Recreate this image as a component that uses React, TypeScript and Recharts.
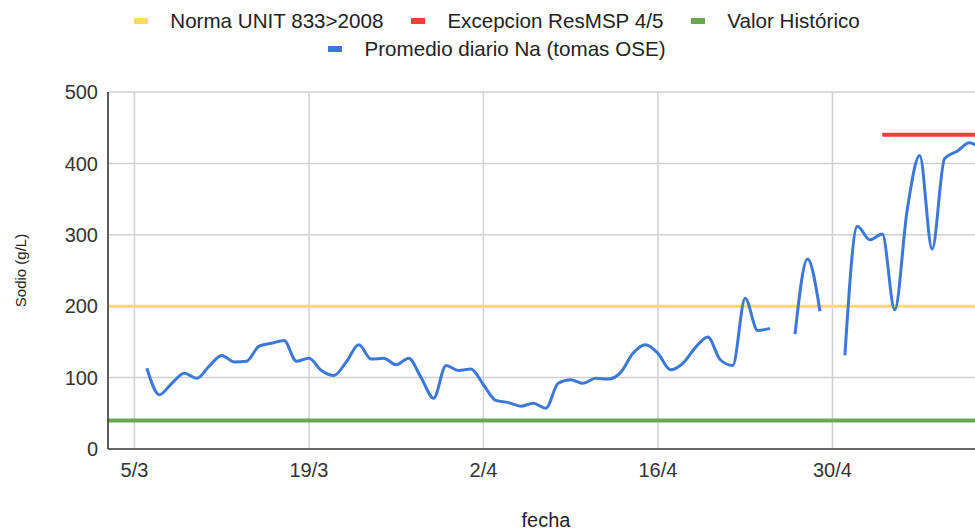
import { LineChart, Line, XAxis, YAxis, CartesianGrid, Legend, ReferenceLine } from "recharts";

// daily dates (d/m, 2023) and mean Na values; null = no sample
const fechas = [
  "6/3", "7/3", "8/3", "9/3", "10/3", "11/3", "12/3", "13/3", "14/3", "15/3",
  "16/3", "17/3", "18/3", "19/3", "20/3", "21/3", "22/3", "23/3", "24/3", "25/3",
  "26/3", "27/3", "28/3", "29/3", "30/3", "31/3", "1/4", "2/4", "3/4", "4/4",
  "5/4", "6/4", "7/4", "8/4", "9/4", "10/4", "11/4", "12/4", "13/4", "14/4",
  "15/4", "16/4", "17/4", "18/4", "19/4", "20/4", "21/4", "22/4", "23/4", "24/4",
  "25/4", "26/4", "27/4", "28/4", "29/4", "30/4", "1/5", "2/5", "3/5", "4/5",
  "5/5", "6/5", "7/5", "8/5", "9/5", "10/5", "11/5", "12/5",
];
const sodio: (number | null)[] = [
  113, 76, 92, 106, 99, 116, 131, 122, 123, 144,
  148, 152, 123, 127, 110, 103, 122, 146, 126, 127,
  118, 127, 100, 71, 117, 110, 112, 90, 68, 65,
  60, 64, 57, 92, 97, 92, 99, 98, 107, 134,
  146, 134, 111, 120, 142, 157, 125, 117, 211, 166,
  169, null, 161, 266, 193, null, 131, 312, 293, 301,
  195, 335, 411, 280, 407, 417, 429, 418,
];

const tickFechas = ["5/3", "19/3", "2/4", "16/4", "30/4"];
const yTicks = [0, 100, 200, 300, 400, 500];

const normaUnit = 200;
const valorHistorico = 40;
const excepcionResMSP = 440;
const excepcionDesde = "4/5";

const legendRows = [
  [
    { name: "Norma UNIT 833>2008", color: "#ffd966" },
    { name: "Excepcion ResMSP 4/5", color: "#ea4335" },
    { name: "Valor Histórico", color: "#6aa84f" },
  ],
  [{ name: "Promedio diario Na (tomas OSE)", color: "#3c78d8" }],
];

// days counted from 5/3
function dayOf(fecha: string) {
  const [d, m] = fecha.split("/").map(Number);
  return Math.round((Date.UTC(2023, m - 1, d) - Date.UTC(2023, 2, 5)) / 86400000);
}

const data = fechas.map((fecha, i) => ({
  day: dayOf(fecha),
  fecha,
  sodio: sodio[i],
  excepcion: dayOf(fecha) >= dayOf(excepcionDesde) ? excepcionResMSP : null,
}));

const xTicks = tickFechas.map(dayOf);
const tickLabel = (v: number) => tickFechas[xTicks.indexOf(v)] ?? "";

function ChartLegend() {
  return (
    <div style={{ paddingTop: 7 }}>
      {legendRows.map((row, r) => (
        <div
          key={r}
          style={{ display: "flex", justifyContent: "center", alignItems: "center", height: 28 }}
        >
          {row.map(item => (
            <div key={item.name} style={{ display: "flex", alignItems: "center", margin: "0 14px" }}>
              <span style={{ width: 14, height: 6, background: item.color, marginRight: 22 }} />
              <span style={{ fontSize: 20.6, color: "#222", whiteSpace: "nowrap" }}>{item.name}</span>
            </div>
          ))}
        </div>
      ))}
    </div>
  );
}

function YTitle({ viewBox }: any) {
  const cx = viewBox.x + 20;
  const cy = viewBox.y + viewBox.height / 2;
  return (
    <text
      x={cx}
      y={cy}
      transform={`rotate(-90 ${cx} ${cy})`}
      textAnchor="middle"
      dominantBaseline="central"
      fontSize={15}
      fill="#222"
    >
      Sodio (g/L)
    </text>
  );
}

export default function App() {
  return (
    <div
      style={{
        position: "fixed",
        left: 0,
        top: 0,
        width: 975,
        height: 531,
        overflow: "hidden",
        background: "#fff",
        fontFamily: 'Arial, "Liberation Sans", sans-serif',
      }}
    >
      <LineChart width={990} height={531} data={data} margin={{ top: 92, right: 6, bottom: 0, left: 0 }}>
        <CartesianGrid stroke="#d0d0d0" strokeWidth={1.5} />
        <XAxis
          type="number"
          dataKey="day"
          domain={[-2.12, 68.16]}
          allowDataOverflow
          ticks={xTicks}
          tickFormatter={tickLabel}
          height={82}
          tickLine={false}
          tickMargin={8}
          axisLine={{ stroke: "#666", strokeWidth: 2 }}
          tick={{ fill: "#333", fontSize: 20 }}
          label={{ value: "fecha", position: "insideBottom", offset: 4, fill: "#222", fontSize: 20 }}
        />
        <YAxis
          type="number"
          domain={[0, 500]}
          ticks={yTicks}
          width={108}
          tickLine={false}
          tickMargin={4}
          axisLine={{ stroke: "#333", strokeWidth: 1.5 }}
          tick={{ fill: "#333", fontSize: 20 }}
          label={<YTitle />}
        />
        <Legend
          layout="horizontal"
          verticalAlign="middle"
          wrapperStyle={{ top: 0, left: 0, width: 994 }}
          content={<ChartLegend />}
        />
        <ReferenceLine y={valorHistorico} stroke="#6aa84f" strokeWidth={4} />
        <ReferenceLine y={normaUnit} stroke="#ffd966" strokeWidth={3} />
        <Line
          type="linear"
          dataKey="excepcion"
          stroke="#ea4335"
          strokeWidth={4}
          dot={false}
          connectNulls={false}
          isAnimationActive={false}
        />
        <Line
          type="monotone"
          dataKey="sodio"
          stroke="#3c78d8"
          strokeWidth={3}
          dot={false}
          connectNulls={false}
          isAnimationActive={false}
        />
      </LineChart>
    </div>
  );
}
